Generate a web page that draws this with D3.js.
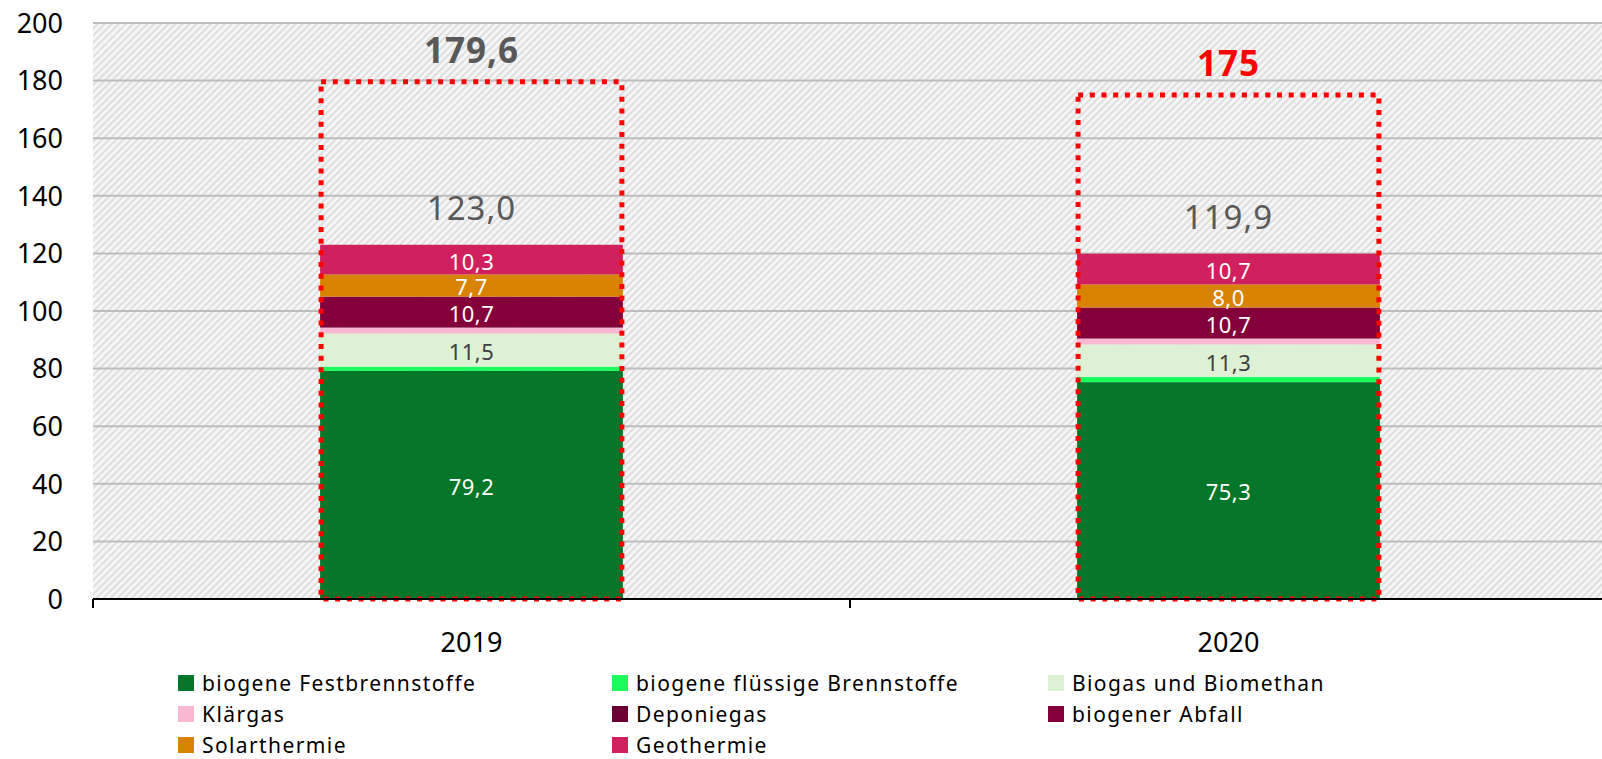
<!DOCTYPE html>
<html>
<head>
<meta charset="utf-8">
<script src="https://cdn.jsdelivr.net/npm/d3@7"></script>
<style>
  body { margin: 0; background: #fff; }
  text { font-family: "Noto Sans", "Open Sans", sans-serif; }
</style>
</head>
<body>
<div id="chart"></div>
<script>
// data
const years = ["2019", "2020"];
const seriesNames = ["biogene Festbrennstoffe", "biogene flüssige Brennstoffe", "Biogas und Biomethan",
    "Klärgas", "Deponiegas", "biogener Abfall", "Solarthermie", "Geothermie"];
const values2019 = [79.2, 1.5, 11.5, 2.0, 0.1, 10.7, 7.7, 10.3];
const values2020 = [75.3, 1.8, 11.3, 2.0, 0.1, 10.7, 8.0, 10.7];
const totals = [123.0, 119.9];
const targets = [179.6, 175];
const yTicks = [0, 20, 40, 60, 80, 100, 120, 140, 160, 180, 200];

const colors = ["#037629", "#1cfc5c", "#ddf1d5", "#f9b7d2", "#6b0032", "#83003a", "#d88300", "#d0215e"];
const labelColors = ["#fff", "#fff", "#404040", "#fff", "#fff", "#fff", "#fff", "#fff"];
const showLabel = [true, false, true, false, false, true, true, true];

const width = 1602, height = 759;
const fmt = v => v.toFixed(1).replace(".", ",");

const svg = d3.select("#chart").append("svg")
    .attr("width", width)
    .attr("height", height);

// hatch pattern for plot background
const defs = svg.append("defs");
const pat = defs.append("pattern")
    .attr("id", "hatch")
    .attr("patternUnits", "userSpaceOnUse")
    .attr("width", 5).attr("height", 5)
    .attr("patternTransform", "rotate(45)");
pat.append("rect").attr("width", 5).attr("height", 5).attr("fill", "#f6f6f6");
pat.append("rect").attr("width", 2).attr("height", 5).attr("fill", "#dedede");

const x = d3.scaleBand().domain(years).range([93, 1607]).padding(0);
const y = d3.scaleLinear().domain([0, 200]).range([599, 23]);
const barW = x.bandwidth() * 0.4;

svg.append("rect")
    .attr("x", 93).attr("y", y(200))
    .attr("width", width - 93).attr("height", y(0) - y(200))
    .attr("fill", "url(#hatch)");

// gridlines
svg.append("g").selectAll("line")
    .data(yTicks.filter(d => d > 0))
    .enter().append("line")
    .attr("x1", 93).attr("x2", width)
    .attr("y1", d => y(d)).attr("y2", d => y(d))
    .attr("stroke", "#bdbdbd").attr("stroke-width", 2);

// y tick labels
svg.append("g").selectAll("text")
    .data(yTicks)
    .enter().append("text")
    .attr("x", 63).attr("y", d => y(d))
    .attr("dy", "0.36em")
    .attr("text-anchor", "end")
    .style("font-size", "27px")
    .attr("fill", "#000")
    .text(d => d);

// stacked bars
const rows = years.map((yr, i) => {
    const vals = i === 0 ? values2019 : values2020;
    const r = { year: yr };
    seriesNames.forEach((s, j) => r[s] = vals[j]);
    return r;
});
const stack = d3.stack().keys(seriesNames)(rows);

const layers = svg.append("g").selectAll("g")
    .data(stack)
    .enter().append("g")
    .attr("fill", (d, i) => colors[i]);

layers.selectAll("rect")
    .data(d => d)
    .enter().append("rect")
    .attr("x", d => x(d.data.year) + (x.bandwidth() - barW) / 2)
    .attr("y", d => y(d[1]))
    .attr("width", barW)
    .attr("height", d => y(d[0]) - y(d[1]));

// segment labels
stack.forEach((layer, i) => {
    if (!showLabel[i]) return;
    svg.append("g").selectAll("text")
        .data(layer)
        .enter().append("text")
        .attr("x", d => x(d.data.year) + x.bandwidth() / 2)
        .attr("y", d => (y(d[0]) + y(d[1])) / 2 + 2)
        .attr("dy", "0.36em")
        .attr("text-anchor", "middle")
        .attr("fill", labelColors[i])
        .style("font-size", "22px")
        .style("letter-spacing", "0.5px")
        .text(d => fmt(d[1] - d[0]));
});

// totals above stacks
svg.append("g").selectAll("text")
    .data(years)
    .enter().append("text")
    .attr("x", d => x(d) + x.bandwidth() / 2)
    .attr("y", (d, i) => y(totals[i]) - 25)
    .attr("text-anchor", "middle")
    .attr("fill", "#595959")
    .style("font-size", "33px")
    .style("letter-spacing", "1px")
    .text((d, i) => fmt(totals[i]));

// dotted target boxes
svg.append("g").selectAll("rect")
    .data(years)
    .enter().append("rect")
    .attr("x", d => x(d) + (x.bandwidth() - barW) / 2 + 1)
    .attr("y", (d, i) => y(targets[i]))
    .attr("width", barW - 2)
    .attr("height", (d, i) => y(0) - y(targets[i]))
    .attr("fill", "none")
    .attr("stroke", "#ff0000")
    .attr("stroke-width", 5)
    .attr("stroke-dasharray", "5 6.7");

svg.append("g").selectAll("text")
    .data(years)
    .enter().append("text")
    .attr("x", d => x(d) + x.bandwidth() / 2)
    .attr("y", (d, i) => y(targets[i]) - 19)
    .attr("text-anchor", "middle")
    .attr("fill", (d, i) => i === 0 ? "#595959" : "#ff0000")
    .style("font-size", "35px")
    .style("font-weight", "bold")
    .style("letter-spacing", "1px")
    .text((d, i) => i === 0 ? fmt(targets[i]) : targets[i]);

// x axis
const xAxis = svg.append("g");
xAxis.append("line")
    .attr("x1", 93).attr("x2", width)
    .attr("y1", y(0)).attr("y2", y(0))
    .attr("stroke", "#000").attr("stroke-width", 2);
xAxis.selectAll(".tick")
    .data([93, x("2020"), 1607])
    .enter().append("line")
    .attr("x1", d => d).attr("x2", d => d)
    .attr("y1", y(0)).attr("y2", y(0) + 9)
    .attr("stroke", "#000").attr("stroke-width", 2);
xAxis.selectAll("text")
    .data(years)
    .enter().append("text")
    .attr("x", d => x(d) + x.bandwidth() / 2)
    .attr("y", 652)
    .attr("text-anchor", "middle")
    .style("font-size", "27px")
    .text(d => d);

// legend
const legX = [178, 612, 1048];
const legY = [683, 714, 745];
const legend = svg.append("g").selectAll("g")
    .data(seriesNames)
    .enter().append("g")
    .attr("transform", (d, i) => "translate(" + legX[i % 3] + "," + legY[Math.floor(i / 3)] + ")");
legend.append("rect")
    .attr("x", 0).attr("y", -8)
    .attr("width", 16).attr("height", 16)
    .attr("fill", (d, i) => colors[i]);
legend.append("text")
    .attr("x", 24).attr("y", 0)
    .attr("dy", "0.36em")
    .style("font-size", "21px")
    .style("letter-spacing", "1.4px")
    .attr("fill", "#000")
    .text(d => d);
</script>
</body>
</html>
